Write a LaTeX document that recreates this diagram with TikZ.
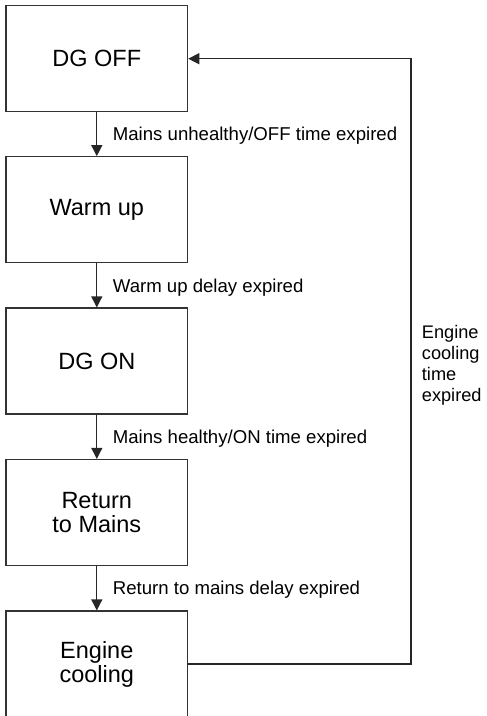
\documentclass[tikz,border=0pt]{standalone}
\usepackage{fontspec}
\setmainfont{Liberation Sans}
\usetikzlibrary{arrows.meta}
\begin{document}
\begin{tikzpicture}[x=1pt,y=-1pt,
  state/.style={draw=black!80, line width=1.2pt, minimum width=181.7pt, minimum height=106pt, inner sep=0pt, align=center, font=\fontsize{23.5}{24}\selectfont},
  lbl/.style={anchor=base west, inner sep=0pt, font=\fontsize{18.6}{21}\selectfont},
  conn/.style={draw=black!85, line width=1.2pt, -{Triangle[width=11pt,length=11pt]}}]
\clip (0,0) rectangle (487,716);
\node[state] (off) at (96.8,58.7) {DG OFF};
\node[state] (warm) at (96.8,209.7) {Warm up};
\node[state] (on) at (96.8,361) {DG ON};
\node[state] (ret) at (96.8,512.5) {Return\\to Mains};
\node[state] (cool) at (96.8,664) {Engine\\cooling};
\draw[conn] (off) -- (warm);
\draw[conn] (warm) -- (on);
\draw[conn] (on) -- (ret);
\draw[conn] (ret) -- (cool);
\coordinate (c2) at (411,58.7);
\draw[conn] (cool.east) -| (c2) -- (off.east);
\node[lbl] (l1) at (112.7,140.3) {Mains unhealthy/OFF time expired};
\node[lbl] (l2) at (112.7,292) {Warm up delay expired};
\node[lbl] (l3) at (112.7,443.5) {Mains healthy/ON time expired};
\node[lbl] (l4) at (112.7,594.5) {Return to mains delay expired};
\node[anchor=west, inner sep=0pt, align=left, font=\fontsize{18.2}{21}\selectfont] (l5) at (421.7,365) {Engine\\cooling\\time\\expired};
\end{tikzpicture}
\end{document}
